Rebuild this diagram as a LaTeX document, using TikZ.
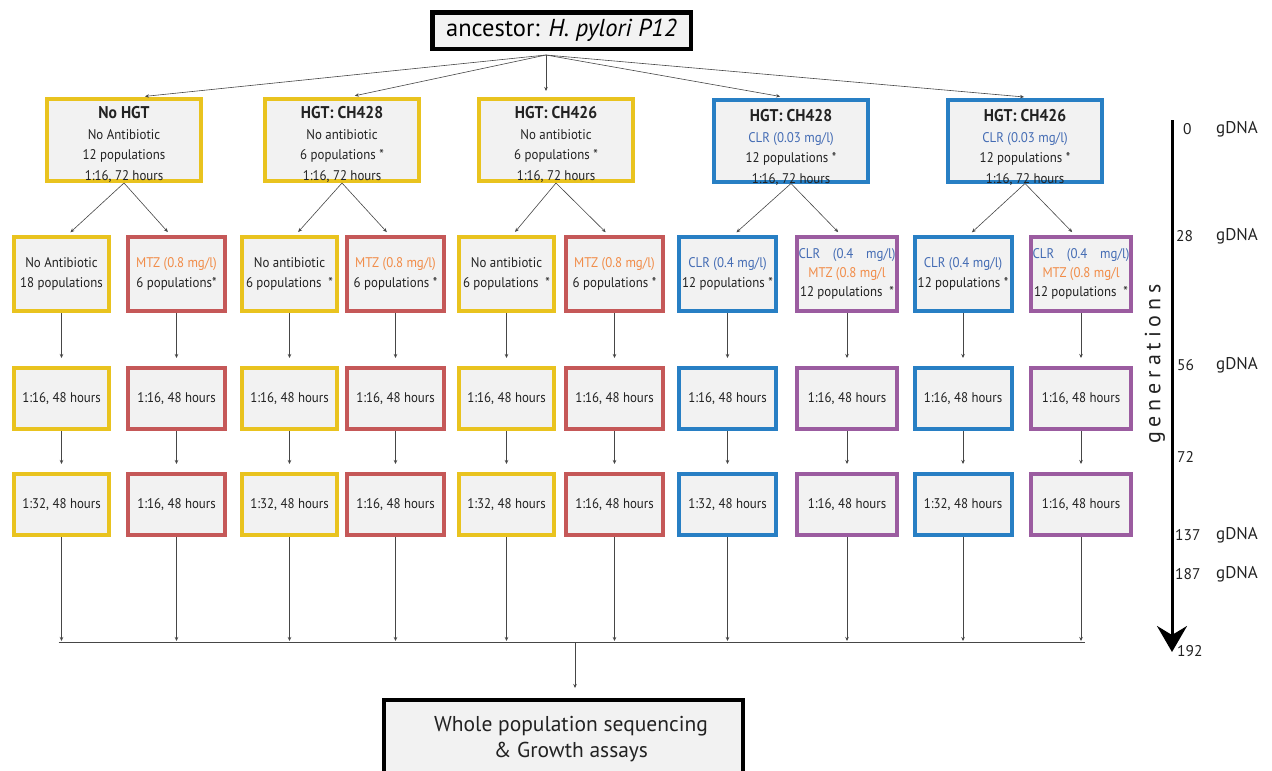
\documentclass[tikz,border=0pt]{standalone}
\usepackage{fontspec}
\setmainfont{PT Sans}
\newfontfamily\cellfont{PT Sans}[FakeStretch=0.92]
\newfontfamily\genfont{PT Sans}[LetterSpace=22]
\usetikzlibrary{arrows.meta,calc}
\definecolor{hgy}{RGB}{233,195,31}
\definecolor{hgr}{RGB}{197,88,88}
\definecolor{hgb}{RGB}{40,127,196}
\definecolor{hgp}{RGB}{155,92,160}
\definecolor{mtzc}{RGB}{241,140,72}
\definecolor{clrc}{RGB}{68,108,180}
\definecolor{boxfill}{RGB}{242,242,242}
\definecolor{txt}{RGB}{34,34,34}
\definecolor{lnk}{RGB}{70,70,70}
\newcommand{\ttl}[1]{{\bfseries\fontsize{17}{20.5}\selectfont #1}}
\newcommand{\lift}[2]{\raisebox{#1}[0pt][0pt]{\begin{tabular}{@{}c@{}}#2\end{tabular}}}
\newcommand{\mtz}{\textcolor{mtzc}{MTZ (0.8 mg/l)}}
\newcommand{\clr}[1]{\textcolor{clrc}{CLR (#1 mg/l)}}
\newcommand{\clrwide}{\textcolor{clrc}{\makebox[97pt][s]{CLR\hfill(0.4\hfill mg/l)}}}

\begin{document}
\begin{tikzpicture}[x=1pt,y=-1pt,>={Stealth[length=4pt,width=3.5pt]},
  cell/.style={draw,line width=4pt,fill=boxfill,text=txt,align=center,inner sep=1pt,
    font=\cellfont\fontsize{14}{20.5}\selectfont},
  ybox/.style={cell,draw=hgy,minimum width=95pt},
  rbox/.style={cell,draw=hgr,minimum width=97pt},
  bbox/.style={cell,draw=hgb,minimum width=97pt},
  pbox/.style={cell,draw=hgp,minimum width=100pt},
  head/.style={minimum width=154pt,minimum height=82pt},
  pick/.style={minimum height=74pt},
  pass/.style={minimum height=61pt},
  link/.style={->,line width=0.6pt,draw=lnk},
  tick/.style={anchor=west,inner sep=0pt,text=txt,font=\fontsize{15.5}{18}\selectfont}]
  \useasboundingbox (0,0) rectangle (1272,771);

  % ancestor and the five lines of descent
  \node[draw,line width=4.5pt,fill=boxfill,minimum width=258.5pt,minimum height=36.5pt,
    font=\fontsize{24.5}{26}\selectfont] (anc) at (561.5,30.5) {ancestor: \textit{H. pylori P12}};
  \coordinate (fan) at (546,55);

  \node[ybox,head] (t1) at (124,140) {\lift{-9pt}{\ttl{No HGT}\\No Antibiotic\\12 populations\\1:16, 72 hours}};
  \node[ybox,head] (t2) at (342,140) {\lift{-9pt}{\ttl{HGT: CH428}\\No antibiotic\\6 populations *\\1:16, 72 hours}};
  \node[ybox,head] (t3) at (556,140) {\lift{-9pt}{\ttl{HGT: CH426}\\No antibiotic\\6 populations *\\1:16, 72 hours}};
  \node[bbox,head] (t4) at (791,140.5) {\lift{-11.5pt}{\ttl{HGT: CH428}\\\clr{0.03}\\12 populations *\\1:16, 72 hours}};
  \node[bbox,head] (t5) at (1025,140.5) {\lift{-11.5pt}{\ttl{HGT: CH426}\\\clr{0.03}\\12 populations *\\1:16, 72 hours}};
  \foreach \i/\dx in {1/15,2/7,3/-10,4/-5,5/5} {
    \draw[link,shorten >=6pt] (fan) -- ([xshift=\dx pt]t\i.north); }

  % selection at 28 generations
  \node[ybox,pick] (s1) at (61.5,274) {No Antibiotic\\18 populations};
  \node[rbox,pick] (s2) at (176.5,274) {\mtz\\6 populations*};
  \node[ybox,pick] (s3) at (289.5,274) {No antibiotic\\6 populations~~*};
  \node[rbox,pick] (s4) at (395.5,274) {\mtz\\6 populations *};
  \node[ybox,pick] (s5) at (506.5,274) {No antibiotic\\6 populations~~*};
  \node[rbox,pick] (s6) at (614.5,274) {\mtz\\6 populations *};
  \node[bbox,pick] (s7) at (727.5,274) {\clr{0.4}\\12 populations *};
  \node[pbox,pick,font=\cellfont\fontsize{14}{19}\selectfont] (s8) at (847,274) {\clrwide\\\textcolor{mtzc}{MTZ (0.8 mg/l}\\12 populations~~*};
  \node[bbox,pick] (s9) at (963,274) {\clr{0.4}\\12 populations *};
  \node[pbox,pick,font=\cellfont\fontsize{14}{19}\selectfont] (s10) at (1081,274) {\clrwide\\\textcolor{mtzc}{MTZ (0.8 mg/l}\\12 populations~~*};
  \foreach \a/\b/\c in {1/1/2,2/3/4,3/5/6,4/7/8,5/9/10} {
    \draw[link,shorten >=4pt] (t\a.south) -- ([xshift=6pt]s\b.north);
    \draw[link,shorten >=4pt] (t\a.south) -- ([xshift=-6pt]s\c.north); }

  % transfers
  \foreach \i/\x/\c/\r in {1/61.5/ybox/32,2/176.5/rbox/16,3/289.5/ybox/32,4/395.5/rbox/16,
      5/506.5/ybox/32,6/614.5/rbox/16,7/727.5/bbox/32,8/847/pbox/16,9/963/bbox/32,10/1081/pbox/16} {
    \node[\c,pass] (p\i) at (\x,398.5) {1:16, 48 hours};
    \node[\c,pass] (q\i) at (\x,504.5) {1:\r, 48 hours}; }

  % collect everything
  \coordinate (bar) at (575,642);
  \node[draw,line width=4pt,fill=boxfill,minimum width=359pt,minimum height=78pt,align=center,
    text=txt,font=\fontsize{21.5}{26}\selectfont] (seq) at (563.5,739)
    {\hspace*{15pt}Whole population sequencing\\\hspace*{15pt}\& Growth assays};
  \foreach \i in {1,...,10} {
    \draw[link,shorten >=8pt] (s\i) -- (p\i);
    \draw[link,shorten >=8pt] (p\i) -- (q\i);
    \draw[link,shorten >=1pt] (q\i.south) -- (q\i.south |- bar); }
  \draw[line width=0.6pt,draw=lnk] ($(q1.south |- bar)+(-3,0)$) -- ($(q10.south |- bar)+(4,0)$);
  \draw[link,shorten >=10pt] (bar) -- (bar |- seq.north);

  % generations axis
  \coordinate (gtop) at (1172,120);
  \coordinate (gend) at (1172,652);
  \draw[line width=3pt,-{Stealth[length=26pt,width=30pt,inset=9pt]}] (gtop) -- (gend);
  \node[rotate=90,text=txt,font=\genfont\fontsize{22}{24}\selectfont] (gen) at (1155,364) {generations};
  \node[tick] (n0) at (1183,129) {0};
  \node[tick] (n28) at (1176,236) {28};
  \node[tick] (n56) at (1177,365) {56};
  \node[tick] (n72) at (1177,457) {72};
  \node[tick] (n137) at (1175,535) {137};
  \node[tick] (n187) at (1175,574) {187};
  \node[tick] (n192) at (1177,651) {192};
  \foreach \n/\y in {0/129,28/236,56/365,137/535,187/574} {
    \node[tick,font=\fontsize{17}{18}\selectfont] (d\n) at (1216,\y) {gDNA}; }
\end{tikzpicture}
\end{document}
